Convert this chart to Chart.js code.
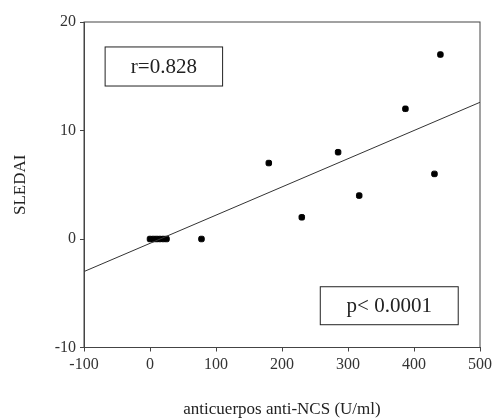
<!doctype html>
<html lang="es">
<head>
  <meta charset="utf-8">
  <title>SLEDAI vs anticuerpos anti-NCS</title>
  <style>
    * { margin: 0; padding: 0; }
    body { background: white; }
    .chartBox { width: 496px; height: 420px; position: relative; }
  </style>
</head>
<body>
<div class="chartBox">
  <canvas id="myChart"></canvas>
</div>

<script src="https://cdn.jsdelivr.net/npm/chart.js"></script>
<script>
  // data
  const antiNCS = [0, 5, 10, 15, 20, 25, 78, 180, 230, 285, 317, 387, 431, 440];
  const sledai  = [0, 0, 0, 0, 0, 0, 0, 7, 2, 8, 4, 12, 6, 17];
  const fitX = [-100, 500];
  const fitY = [-3.0, 12.6];
  const xTicks = [-100, 0, 100, 200, 300, 400, 500];
  const yTicks = [-10, 0, 10, 20];
  const rText = 'r=0.828';
  const pText = 'p< 0.0001';

  const points = antiNCS.map((x, i) => ({ x: x, y: sledai[i] }));
  const fitLine = fitX.map((x, i) => ({ x: x, y: fitY[i] }));

  const serif = '"Liberation Serif", "DejaVu Serif", serif';

  // frame around the plot + the two label boxes
  const frameAndBoxes = {
    id: 'frameAndBoxes',
    afterDraw(chart) {
      const { ctx, chartArea, scales } = chart;
      ctx.save();
      ctx.strokeStyle = '#444';
      ctx.lineWidth = 1;
      ctx.strokeRect(chartArea.left, chartArea.top, chartArea.width, chartArea.height);

      const box = (x0, x1, y0, y1, text) => {
        const l = scales.x.getPixelForValue(x0);
        const r = scales.x.getPixelForValue(x1);
        const t = scales.y.getPixelForValue(y0);
        const b = scales.y.getPixelForValue(y1);
        ctx.fillStyle = 'white';
        ctx.fillRect(l, t, r - l, b - t);
        ctx.strokeStyle = '#222';
        ctx.strokeRect(l, t, r - l, b - t);
        ctx.fillStyle = '#222';
        ctx.font = '21px ' + serif;
        ctx.textAlign = 'center';
        ctx.textBaseline = 'middle';
        ctx.fillText(text, (l + r) / 2, (t + b) / 2 + 1);
      };
      box(-68, 110, 17.7, 14.1, rText);
      box(258, 467, -4.4, -7.9, pText);
      ctx.restore();
    }
  };

  const data = {
    datasets: [
      {
        type: 'line',
        label: 'regresión',
        data: fitLine,
        borderColor: '#333',
        borderWidth: 1,
        pointRadius: 0,
        fill: false
      },
      {
        type: 'scatter',
        label: 'pacientes',
        data: points,
        backgroundColor: '#000',
        borderColor: '#000',
        pointStyle: 'rectRounded',
        pointRadius: 3.2
      }
    ]
  };

  const config = {
    type: 'scatter',
    data,
    options: {
      responsive: true,
      maintainAspectRatio: false,
      animation: false,
      layout: { padding: { top: 22, right: 13, left: 0, bottom: 0 } },
      scales: {
        x: {
          type: 'linear',
          min: -100,
          max: 500,
          afterBuildTicks: (axis) => { axis.ticks = xTicks.map(v => ({ value: v })); },
          afterFit: (axis) => { axis.height = 72.5; },
          ticks: {
            color: '#333',
            padding: 4,
            maxRotation: 0,
            font: { family: serif, size: 16 }
          },
          grid: { drawOnChartArea: false, drawTicks: true, tickLength: 4, color: '#444' },
          border: { color: '#444' },
          title: {
            display: true,
            text: 'anticuerpos anti-NCS (U/ml)',
            color: '#222',
            font: { family: serif, size: 17 },
            padding: { top: 16, bottom: 0 }
          }
        },
        y: {
          type: 'linear',
          min: -10,
          max: 20,
          afterBuildTicks: (axis) => { axis.ticks = yTicks.map(v => ({ value: v })); },
          afterFit: (axis) => { axis.width = 84; },
          ticks: {
            color: '#333',
            padding: 4,
            font: { family: serif, size: 16 }
          },
          grid: { drawOnChartArea: false, drawTicks: true, tickLength: 4, color: '#444' },
          border: { color: '#444' },
          title: {
            display: true,
            text: 'SLEDAI',
            color: '#222',
            font: { family: serif, size: 17 },
            padding: { top: 10, bottom: 8 }
          }
        }
      },
      plugins: {
        legend: { display: false },
        tooltip: { enabled: false }
      }
    },
    plugins: [frameAndBoxes]
  };

  const myChart = new Chart(document.getElementById('myChart'), config);
</script>
</body>
</html>
